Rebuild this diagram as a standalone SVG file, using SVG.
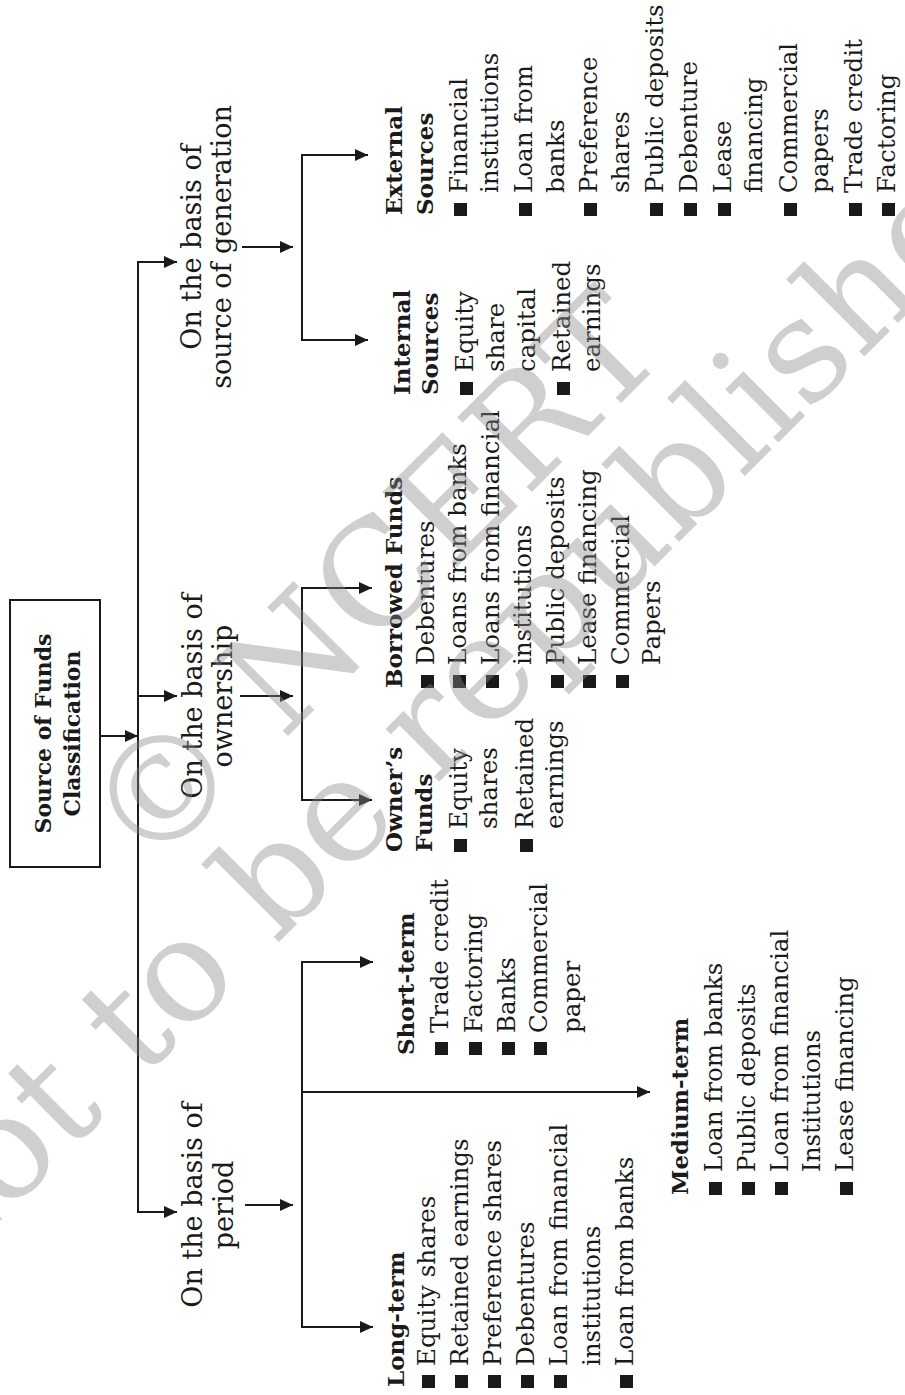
<svg xmlns="http://www.w3.org/2000/svg" width="905" height="1395" viewBox="0 0 905 1395">
<defs>
<marker id="ah" markerUnits="userSpaceOnUse" markerWidth="14" markerHeight="12" refX="13" refY="6" orient="auto-start-reverse"><path d="M0,0 L13,6 L0,12 z" fill="#1a1a1a"/></marker>
</defs>
<style>
text{font-family:"DejaVu Serif","Liberation Serif",serif;fill:#1a1a1a}
.it{font-size:24.5px}
.hd{font-size:23px;font-weight:bold}
.l1{font-size:27px;text-anchor:middle}
.bx{font-size:22px;font-weight:bold;text-anchor:middle}
.c{fill:none;stroke:#1a1a1a;stroke-width:2}
.b{fill:#1a1a1a}
.wm{font-family:"DejaVu Serif",serif;font-size:145px;fill:#8a8a8a;opacity:0.4}
</style>
<rect width="905" height="1395" fill="#fff"/>
<g transform="translate(0,1395) rotate(-90)">
<g id="connectors">
<path class="c" d="M659,100 L659,138" marker-end="url(#ah)"/>
<path class="c" d="M1133,177 L1133,138 L183,138 L183,177" marker-start="url(#ah)" marker-end="url(#ah)"/>
<path class="c" d="M699,138 L699,177" marker-end="url(#ah)"/>
<path class="c" d="M1148,242 L1148,293" marker-end="url(#ah)"/>
<path class="c" d="M1240,368 L1240,302 L1055,302 L1055,368" marker-start="url(#ah)" marker-end="url(#ah)"/>
<path class="c" d="M699,240 L699,293" marker-end="url(#ah)"/>
<path class="c" d="M807,372 L807,302 L595,302 L595,372" marker-start="url(#ah)" marker-end="url(#ah)"/>
<path class="c" d="M190,245 L190,293" marker-end="url(#ah)"/>
<path class="c" d="M433,373 L433,302 L68,302 L68,373" marker-start="url(#ah)" marker-end="url(#ah)"/>
<path class="c" d="M303,302 L303,650" marker-end="url(#ah)"/>
</g>
<g id="root">
<rect x="528" y="10" width="267" height="90" fill="#fff" stroke="#1a1a1a" stroke-width="2"/>
<text class="bx" x="661.5" y="51">Source of Funds</text>
<text class="bx" x="661.5" y="80">Classification</text>
</g>
<g id="basis-generation">
<text class="l1" x="1148" y="201">On the basis of</text>
<text class="l1" x="1148" y="231">source of generation</text>
</g>
<g id="basis-ownership">
<text class="l1" x="699" y="202">On the basis of</text>
<text class="l1" x="699" y="232">ownership</text>
</g>
<g id="basis-period">
<text class="l1" x="190" y="202">On the basis of</text>
<text class="l1" x="190" y="233">period</text>
</g>
<g id="long-term">
<text class="hd" x="8" y="404">Long-term</text>
<rect class="b" x="7" y="422" width="13" height="13"/>
<rect class="b" x="7" y="455" width="13" height="13"/>
<rect class="b" x="7" y="488" width="13" height="13"/>
<rect class="b" x="7" y="521" width="13" height="13"/>
<rect class="b" x="7" y="554" width="13" height="13"/>
<rect class="b" x="7" y="620" width="13" height="13"/>
<text class="it" x="29" y="435">Equity shares</text>
<text class="it" x="29" y="468">Retained earnings</text>
<text class="it" x="29" y="501">Preference shares</text>
<text class="it" x="29" y="534">Debentures</text>
<text class="it" x="29" y="567">Loan from financial</text>
<text class="it" x="29" y="600">institutions</text>
<text class="it" x="29" y="633">Loan from banks</text>
</g>
<g id="short-term">
<text class="hd" x="340" y="414">Short-term</text>
<rect class="b" x="340" y="435" width="13" height="13"/>
<rect class="b" x="340" y="469" width="13" height="13"/>
<rect class="b" x="340" y="502" width="13" height="13"/>
<rect class="b" x="340" y="534" width="13" height="13"/>
<text class="it" x="362" y="448">Trade credit</text>
<text class="it" x="362" y="482">Factoring</text>
<text class="it" x="362" y="515">Banks</text>
<text class="it" x="362" y="547">Commercial</text>
<text class="it" x="362" y="580">paper</text>
</g>
<g id="medium-term">
<text class="hd" x="200" y="688">Medium-term</text>
<rect class="b" x="200" y="709" width="13" height="13"/>
<rect class="b" x="200" y="742" width="13" height="13"/>
<rect class="b" x="200" y="775" width="13" height="13"/>
<rect class="b" x="200" y="840" width="13" height="13"/>
<text class="it" x="223" y="722">Loan from banks</text>
<text class="it" x="223" y="755">Public deposits</text>
<text class="it" x="223" y="788">Loan from financial</text>
<text class="it" x="223" y="820">Institutions</text>
<text class="it" x="223" y="853">Lease financing</text>
</g>
<g id="owners-funds">
<text class="hd" x="543" y="402">Owner’s</text>
<text class="hd" x="543" y="432">Funds</text>
<rect class="b" x="543" y="454" width="13" height="13"/>
<rect class="b" x="543" y="520" width="13" height="13"/>
<text class="it" x="566" y="467">Equity</text>
<text class="it" x="566" y="497">shares</text>
<text class="it" x="566" y="533">Retained</text>
<text class="it" x="566" y="563">earnings</text>
</g>
<g id="borrowed-funds">
<text class="hd" x="707" y="402">Borrowed Funds</text>
<rect class="b" x="707" y="421" width="13" height="13"/>
<rect class="b" x="707" y="453" width="13" height="13"/>
<rect class="b" x="707" y="486" width="13" height="13"/>
<rect class="b" x="707" y="551" width="13" height="13"/>
<rect class="b" x="707" y="583" width="13" height="13"/>
<rect class="b" x="707" y="616" width="13" height="13"/>
<text class="it" x="730" y="434">Debentures</text>
<text class="it" x="730" y="466">Loans from banks</text>
<text class="it" x="730" y="499">Loans from financial</text>
<text class="it" x="730" y="531">institutions</text>
<text class="it" x="730" y="564">Public deposits</text>
<text class="it" x="730" y="596">Lease financing</text>
<text class="it" x="730" y="629">Commercial</text>
<text class="it" x="730" y="660">Papers</text>
</g>
<g id="internal-sources">
<text class="hd" x="1000" y="410">Internal</text>
<text class="hd" x="1000" y="438">Sources</text>
<rect class="b" x="1000" y="460" width="13" height="13"/>
<rect class="b" x="1000" y="557" width="13" height="13"/>
<text class="it" x="1023" y="473">Equity</text>
<text class="it" x="1023" y="504">share</text>
<text class="it" x="1023" y="535">capital</text>
<text class="it" x="1023" y="570">Retained</text>
<text class="it" x="1023" y="600">earnings</text>
</g>
<g id="external-sources">
<text class="hd" x="1180" y="402">External</text>
<text class="hd" x="1180" y="433">Sources</text>
<rect class="b" x="1179" y="454" width="13" height="13"/>
<rect class="b" x="1179" y="519" width="13" height="13"/>
<rect class="b" x="1179" y="584" width="13" height="13"/>
<rect class="b" x="1179" y="650" width="13" height="13"/>
<rect class="b" x="1179" y="684" width="13" height="13"/>
<rect class="b" x="1179" y="718" width="13" height="13"/>
<rect class="b" x="1179" y="784" width="13" height="13"/>
<rect class="b" x="1179" y="849" width="13" height="13"/>
<rect class="b" x="1179" y="882" width="13" height="13"/>
<text class="it" x="1202" y="467">Financial</text>
<text class="it" x="1202" y="498">institutions</text>
<text class="it" x="1202" y="532">Loan from</text>
<text class="it" x="1202" y="564">banks</text>
<text class="it" x="1202" y="597">Preference</text>
<text class="it" x="1202" y="629">shares</text>
<text class="it" x="1202" y="663">Public deposits</text>
<text class="it" x="1202" y="697">Debenture</text>
<text class="it" x="1202" y="731">Lease</text>
<text class="it" x="1202" y="762">financing</text>
<text class="it" x="1202" y="797">Commercial</text>
<text class="it" x="1202" y="828">papers</text>
<text class="it" x="1202" y="862">Trade credit</text>
<text class="it" x="1202" y="895">Factoring</text>
</g>
</g>
<g id="watermark">
<text class="wm" transform="translate(148,876) rotate(-45)">© NCERT</text>
<text class="wm" transform="translate(-61,1282) rotate(-45)">not to be republished</text>
</g>
</svg>
